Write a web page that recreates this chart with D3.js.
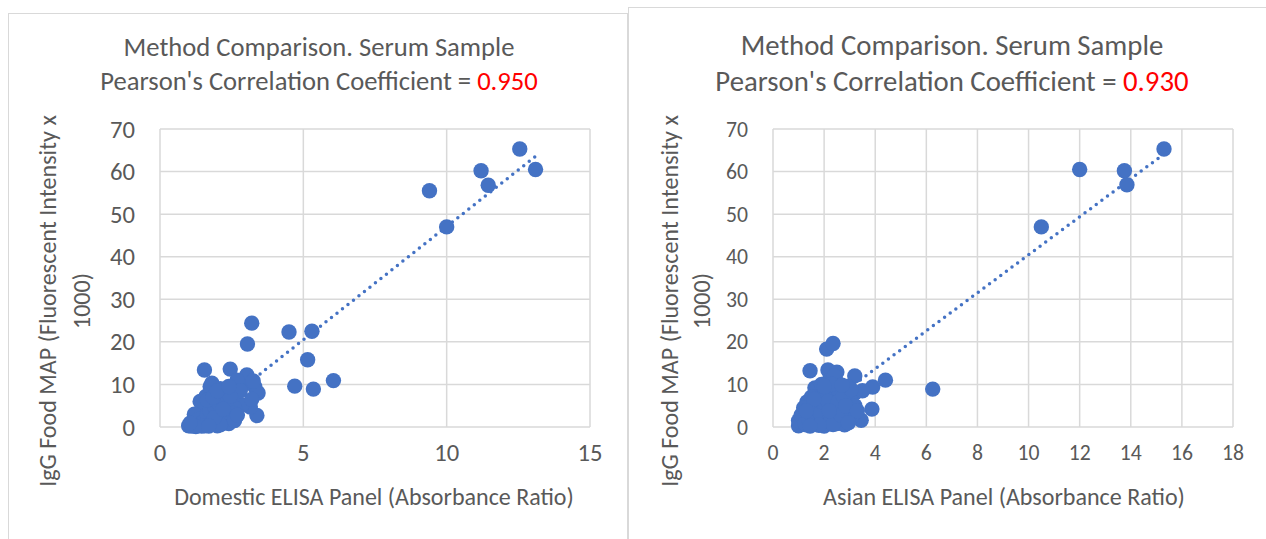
<!DOCTYPE html>
<html>
<head>
<meta charset="utf-8">
<script src="https://cdn.jsdelivr.net/npm/d3@7"></script>
<style>
  body { margin: 0; background: #fff; }
  svg { display: block; }
  text { font-family: Carlito, Calibri, Lato, sans-serif; fill: #595959; }
</style>
</head>
<body>
<div id="chart"></div>
<script>
// --- data ---
const domesticRatio = [9.4, 10.0, 11.2, 12.55, 11.45, 13.1,
  3.2, 4.5, 5.3, 3.05, 5.15, 4.7, 5.35, 6.05, 1.55, 2.45, 3.38, 3.03, 3.31, 3.42, 3.15, 2.86, 2.96, 2.69, 3.25, 2.8, 3.2, 1.81,
  1.0, 1.1, 1.2, 1.1, 1.3, 1.4, 1.5, 1.3, 1.6, 1.7, 1.8, 1.5, 1.6, 1.7, 1.9, 2.0, 2.1, 2.2, 1.9, 2.3, 2.4, 2.2, 2.0, 1.8,
  2.1, 2.3, 2.5, 2.6, 1.4, 1.6, 1.2, 2.0, 2.4, 1.75, 2.5, 1.45, 1.85,
  1.2, 1.35, 1.5, 1.65, 1.75, 1.9, 2.05, 2.15, 2.3, 2.45, 2.55, 2.35, 2.1, 1.55, 1.25, 1.9, 2.2, 1.65, 1.85, 2.0,
  1.05, 1.7, 2.6, 2.7, 2.4];
const domesticMap = [55.5, 47.0, 60.2, 65.3, 56.8, 60.5,
  24.4, 22.3, 22.5, 19.5, 15.8, 9.6, 8.9, 10.9, 13.4, 13.6, 2.7, 12.2, 9.4, 8.0, 4.7, 5.2, 10.3, 11.0, 10.8, 8.5, 6.5, 10.3,
  0.3, 0.8, 1.5, 0.2, 0.5, 1.0, 2.0, 2.5, 0.6, 1.5, 3.0, 3.5, 4.5, 5.5, 6.5, 4.0, 2.5, 1.2, 0.8, 3.5, 5.0, 6.0, 7.5, 8.2,
  9.0, 7.8, 6.5, 4.5, 6.0, 7.2, 3.0, 0.3, 0.8, 9.5, 2.2, 0.2, 1.8,
  1.0, 1.8, 1.2, 2.8, 3.8, 4.8, 5.5, 6.8, 8.5, 7.2, 3.2, 2.0, 0.5, 0.3, 0.1, 2.2, 4.2, 6.3, 7.0, 8.5,
  0.9, 0.2, 1.5, 2.8, 9.5];

const asianRatio = [15.3, 12.0, 13.75, 13.85, 10.5, 6.25,
  2.1, 2.35, 1.45, 2.15, 2.5, 3.2, 4.4, 3.9, 3.5, 3.2, 3.87, 3.45, 3.1, 1.64, 1.33,
  1.0, 1.1, 1.2, 1.0, 1.3, 1.4, 1.5, 1.6, 1.7, 1.8, 1.9, 2.0, 2.1, 2.2, 2.3, 2.4, 2.5, 2.6, 2.7, 2.8, 2.9, 3.0,
  2.5, 2.2, 1.7, 1.5, 2.0, 3.0, 3.2, 2.8, 1.2, 2.6, 2.4, 1.9,
  1.1, 1.25, 1.4, 1.55, 1.65, 1.75, 1.85, 1.95, 2.05, 2.15, 2.25, 2.35, 2.45, 2.55, 2.65, 2.75, 2.85, 2.95, 3.05,
  2.3, 2.0, 1.6, 1.3, 1.8, 2.7, 2.2, 1.45, 3.3];
const asianMap = [65.3, 60.5, 60.2, 56.9, 47.0, 8.9,
  18.3, 19.6, 13.2, 13.4, 12.9, 12.0, 11.0, 9.4, 8.5, 8.0, 4.2, 1.6, 2.5, 9.2, 5.9,
  0.3, 1.0, 2.0, 1.5, 0.5, 3.0, 4.5, 1.0, 2.5, 6.0, 7.5, 4.0, 1.5, 8.5, 5.5, 3.0, 0.8, 6.5, 4.5, 2.0, 9.5, 7.0,
  10.5, 11.0, 8.8, 7.0, 0.2, 3.5, 5.0, 0.5, 4.5, 8.0, 12.0, 10.0,
  2.8, 0.8, 1.8, 2.5, 5.0, 4.0, 3.2, 5.8, 7.0, 6.0, 2.5, 0.6, 4.2, 5.8, 2.8, 7.2, 5.0, 1.0, 8.8,
  10.0, 9.5, 6.5, 3.8, 0.4, 9.8, 3.8, 0.2, 3.8];

const domesticTicksX = [0, 5, 10, 15];
const asianTicksX = [0, 2, 4, 6, 8, 10, 12, 14, 16, 18];
const ticksY = [0, 10, 20, 30, 40, 50, 60, 70];
const correlations = ["0.950", "0.930"];

const W = 1266, H = 539;
const blue = "#4472C4", grid = "#d9d9d9";

const svg = d3.select("#chart").append("svg").attr("width", W).attr("height", H);

// panel frames
svg.append("rect").attr("x", 8.5).attr("y", 13.5).attr("width", 619).attr("height", 560)
  .attr("fill", "#fff").attr("stroke", grid);
svg.append("rect").attr("x", 628.5).attr("y", 7.5).attr("width", 660).attr("height", 560)
  .attr("fill", "#fff").attr("stroke", grid);

// scale the font so the text takes the given width
function fit(sel, width) {
  const size = parseFloat(sel.attr("font-size"));
  const w = sel.node().getComputedTextLength();
  const s = size * width / w;
  sel.attr("font-size", s);
  return s;
}

const panels = [
  { xs: domesticRatio, ys: domesticMap, ticks: domesticTicksX, r: correlations[0],
    px: [160, 590], py: [427, 129], cx: 319, t1: 56, t2: 90, tw: 391, tickW: 25,
    xTitle: "Domestic ELISA Panel (Absorbance Ratio)", xtw: 400, xtc: 374,
    yl1: 56, yl2: 90, ytw: 372 },
  { xs: asianRatio, ys: asianMap, ticks: asianTicksX, r: correlations[1],
    px: [773, 1233], py: [427, 129], cx: 952, t1: 55, t2: 91, tw: 423, tickW: 22,
    xTitle: "Asian ELISA Panel (Absorbance Ratio)", xtw: 362, xtc: 1004,
    yl1: 678, yl2: 710, ytw: 372 }
];

panels.forEach(p => {
  const x = d3.scaleLinear().domain([0, d3.max(p.ticks)]).range(p.px);
  const y = d3.scaleLinear().domain([0, 70]).range(p.py);
  const g = svg.append("g");

  // grid
  g.selectAll(".gx").data(p.ticks).enter().append("line")
    .attr("x1", d => x(d)).attr("x2", d => x(d)).attr("y1", y(0)).attr("y2", y(70))
    .attr("stroke", grid).attr("stroke-width", 1.5);
  g.selectAll(".gy").data(ticksY).enter().append("line")
    .attr("x1", x(0)).attr("x2", x(d3.max(p.ticks))).attr("y1", d => y(d)).attr("y2", d => y(d))
    .attr("stroke", grid).attr("stroke-width", 1.5);

  // tick labels
  const probe = g.append("text").attr("font-size", 20).text("70");
  const tickSize = fit(probe, p.tickW);
  probe.remove();
  g.selectAll(".ty").data(ticksY).enter().append("text")
    .attr("x", x(0) - 25).attr("y", d => y(d)).attr("dy", "0.35em")
    .attr("text-anchor", "end").attr("font-size", tickSize).text(d => d);
  g.selectAll(".tx").data(p.ticks).enter().append("text")
    .attr("x", d => x(d)).attr("y", y(0) + 33 + (p.tickW - 22) * 0.4)
    .attr("text-anchor", "middle").attr("font-size", tickSize).text(d => d);

  // trend line (least squares over the points)
  const mx = d3.mean(p.xs), my = d3.mean(p.ys);
  let sxy = 0, sxx = 0;
  p.xs.forEach((v, i) => { sxy += (v - mx) * (p.ys[i] - my); sxx += (v - mx) * (v - mx); });
  const slope = sxy / sxx, icpt = my - slope * mx;
  const ends = d3.extent(p.xs);
  g.append("line")
    .attr("x1", x(ends[0])).attr("y1", y(icpt + slope * ends[0]))
    .attr("x2", x(ends[1])).attr("y2", y(icpt + slope * ends[1]))
    .attr("stroke", blue).attr("stroke-width", 3.5).attr("stroke-linecap", "round")
    .attr("stroke-dasharray", "0 7");

  // points
  g.selectAll(".pt").data(p.xs).enter().append("circle")
    .attr("cx", d => x(d)).attr("cy", (d, i) => y(p.ys[i])).attr("r", 7.7)
    .attr("fill", blue);

  // title
  const l1 = g.append("text").attr("x", p.cx).attr("y", p.t1).attr("text-anchor", "middle")
    .attr("font-size", 24).text("Method Comparison. Serum Sample");
  const ts = fit(l1, p.tw);
  const l2 = g.append("text").attr("x", p.cx).attr("y", p.t2).attr("text-anchor", "middle")
    .attr("font-size", ts);
  l2.append("tspan").text("Pearson's Correlation Coefficient = ");
  l2.append("tspan").attr("fill", "#FF0000").style("fill", "#FF0000").text(p.r);

  // axis titles
  const xt = g.append("text").attr("x", p.xtc).attr("y", 505).attr("text-anchor", "middle")
    .attr("font-size", 22).text(p.xTitle);
  fit(xt, p.xtw);

  const yt1 = g.append("text").attr("transform", `translate(${p.yl1},301) rotate(-90)`)
    .attr("text-anchor", "middle").attr("font-size", 22).text("IgG Food MAP (Fluorescent Intensity x");
  const ys = fit(yt1, p.ytw);
  g.append("text").attr("transform", `translate(${p.yl2},301) rotate(-90)`)
    .attr("text-anchor", "middle").attr("font-size", ys).text("1000)");
});
</script>
</body>
</html>
